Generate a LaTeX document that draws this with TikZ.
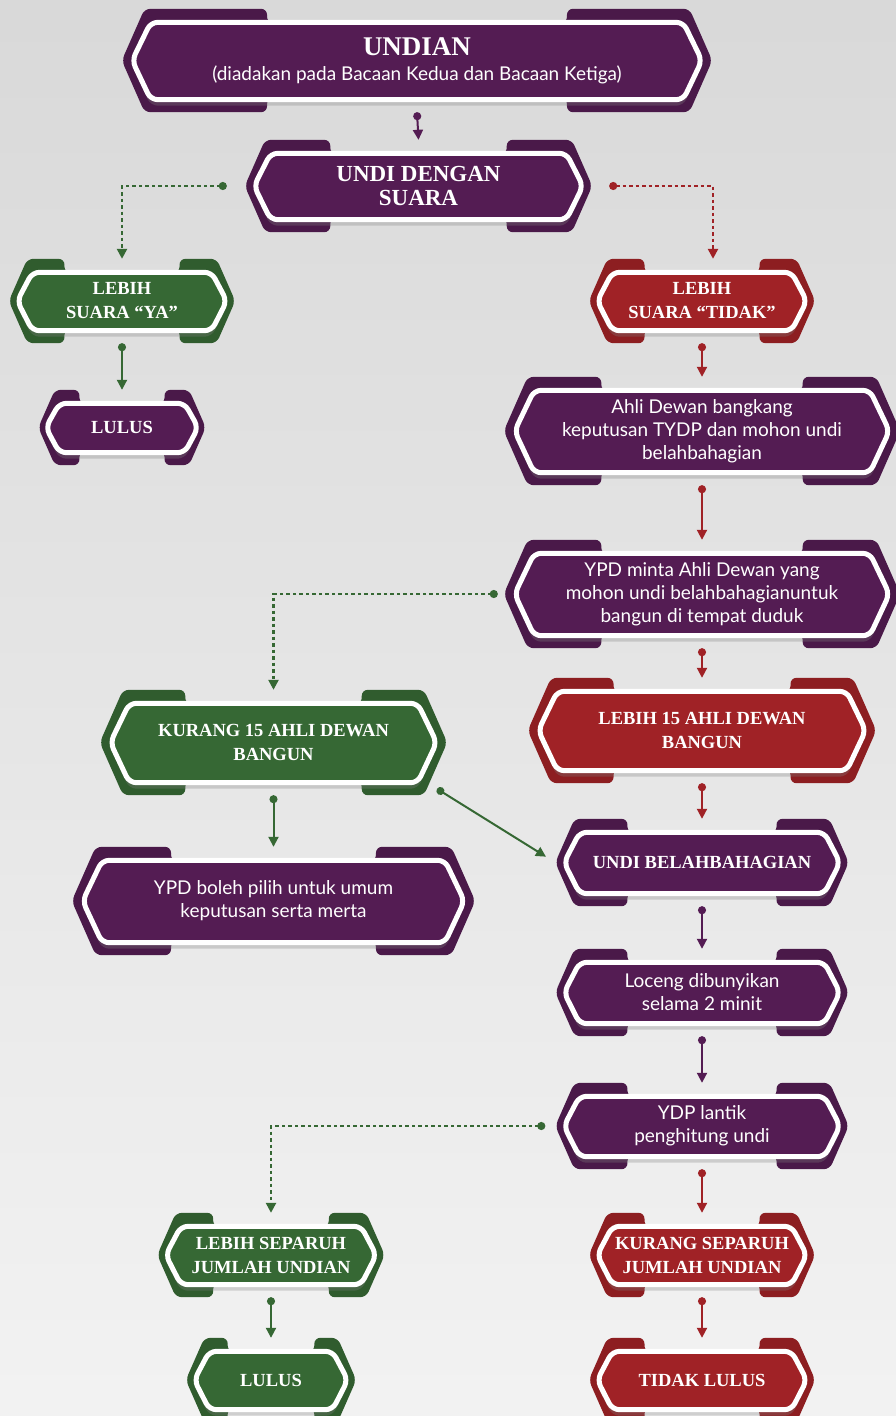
\documentclass[tikz,border=0pt]{standalone}
\usepackage{fontspec}
\setmainfont{Liberation Serif}
\newfontfamily\latofont{Lato}
\usetikzlibrary{arrows.meta,calc,shadows}

\definecolor{plum}{RGB}{84,28,83}
\definecolor{leaf}{RGB}{54,104,52}
\definecolor{brick}{RGB}{160,34,38}

\pgfdeclarelayer{back}
\pgfdeclarelayer{deco}
\pgfsetlayers{back,deco,main}

\newcommand\plaque[2]{%
\path[fill=#2!88!black, rounded corners=6pt] let \p1=(#1.north west), \p2=(#1.south east),
	\n1={0.246*(\x2-\x1)}, \n2={0.22*(\y1-\y2)}, \n3={(\y1+\y2)/2} in
	(\x1,\n3) -- (\x1+\n2,\y1) -- (\x1+\n1,\y1) -- (\x1+\n1,\y1-14pt) -- (\x2-\n1,\y1-14pt)
	-- (\x2-\n1,\y1) -- (\x2-\n2,\y1) -- (\x2,\n3) -- (\x2-\n2,\y2) -- (\x2-\n1,\y2)
	-- (\x2-\n1,\y2+14pt) -- (\x1+\n1,\y2+14pt) -- (\x1+\n1,\y2) -- (\x1+\n2,\y2) -- cycle;
\path[fill=#2, draw=white, line width=5pt, rounded corners=7pt,
	drop shadow={shadow xshift=0pt, shadow yshift=-6pt, opacity=.3}]
	let \p1=(#1.north west), \p2=(#1.south east),
	\n1={0.1*(\y1-\y2)}, \n2={0.1*(\y1-\y2)+0.18*(\y1-\y2)}, \n3={(\y1+\y2)/2} in
	(\x1+\n1,\n3) -- (\x1+\n2,\y1-13.5pt) -- (\x2-\n2,\y1-13.5pt) -- (\x2-\n1,\n3)
	-- (\x2-\n2,\y2+12.5pt) -- (\x1+\n2,\y2+12.5pt) -- cycle;
}

\begin{document}
\begin{tikzpicture}[x=1pt,y=-1pt,
box/.style={inner sep=0pt, text=white, align=center},
head/.style={box, font=\bfseries\fontsize{18.5}{24}\selectfont},
body/.style={box, font=\latofont\fontsize{19}{23}\selectfont},
link/.style={line width=2pt, {Circle[length=8pt]-Triangle[length=10pt,width=10pt]}},
dots/.style={link, line width=2.4pt, dash pattern=on 3.5pt off 3pt},
]
\useasboundingbox (0,0) rectangle (896,1416);
\begin{pgfonlayer}{back}
\fill[top color=black!15, bottom color=black!5] (0,0) rectangle (896,1416);
\end{pgfonlayer}
% \draw[help lines] (0,0) grid[step=50] (896,1416);

\node[head, minimum width=590, minimum height=103] (undian) at (417,60.5)
	{{\fontsize{27}{30}\selectfont UNDIAN}\\[1pt]
	{\latofont\mdseries\fontsize{19}{23}\selectfont (diadakan pada Bacaan Kedua dan Bacaan Ketiga)}};
\node[head, minimum width=347, minimum height=92, font=\bfseries\fontsize{23}{24}\selectfont] (suara) at (418.5,186)
	{UNDI DENGAN\\SUARA};
\node[head, minimum width=226, minimum height=84] (ya) at (122,301) {LEBIH\\SUARA “YA”};
\node[head, minimum width=167, minimum height=75] (lulusa) at (122,427.5) {LULUS};
\node[head, minimum width=226, minimum height=84] (tidak) at (702,301) {LEBIH\\SUARA “TIDAK”};
\node[body, minimum width=396, minimum height=108] (bangkang) at (702,431)
	{Ahli Dewan bangkang\\keputusan TYDP dan mohon undi\\belahbahagian};
\node[body, minimum width=396, minimum height=108] (minta) at (702,594)
	{YPD minta Ahli Dewan yang\\mohon undi belahbahagianuntuk\\bangun di tempat duduk};
\node[head, minimum width=348, minimum height=105] (lebihlima) at (702,730.5) {LEBIH 15 AHLI DEWAN\\BANGUN};
\node[head, minimum width=347, minimum height=105] (kuranglima) at (273.5,742.5) {KURANG 15 AHLI DEWAN\\BANGUN};
\node[body, minimum width=403, minimum height=108] (boleh) at (273.5,901)
	{YPD boleh pilih untuk umum\\keputusan serta merta};
\node[head, minimum width=293, minimum height=87] (belah) at (702,862.5) {UNDI BELAHBAHAGIAN};
\node[body, minimum width=293, minimum height=87] (loceng) at (702,992.5) {Loceng dibunyikan\\selama 2 minit};
\node[body, minimum width=293, minimum height=86] (lantik) at (702,1126) {YDP lantik\\penghitung undi};
\node[head, minimum width=227, minimum height=84] (lebihsep) at (271,1255) {LEBIH SEPARUH\\JUMLAH UNDIAN};
\node[head, minimum width=226, minimum height=84] (kurangsep) at (702,1255) {KURANG SEPARUH\\JUMLAH UNDIAN};
\node[head, minimum width=170, minimum height=84] (lulusb) at (271,1380) {LULUS};
\node[head, minimum width=226, minimum height=84] (tidaklulus) at (702,1380) {TIDAK LULUS};

\begin{pgfonlayer}{deco}
\foreach \nm/\col in {undian/plum, suara/plum, ya/leaf, lulusa/plum, tidak/brick, bangkang/plum,
	minta/plum, lebihlima/brick, kuranglima/leaf, boleh/plum, belah/plum, loceng/plum, lantik/plum,
	lebihsep/leaf, kurangsep/brick, lulusb/leaf, tidaklulus/brick}
	{\plaque{\nm}{\col}}
\end{pgfonlayer}

\draw[link, plum] (undian.south) -- (suara.north);
\draw[dots, leaf, shorten <=18pt] (suara.west) -| (ya.north);
\draw[dots, brick, shorten <=17pt] (suara.east) -| ([xshift=11pt]tidak.north);
\draw[link, leaf] (ya.south) -- (lulusa.north);
\draw[link, brick] (tidak.south) -- (bangkang.north);
\draw[link, brick] (bangkang.south) -- (minta.north);
\draw[dots, leaf, shorten <=6pt] (minta.west) -| (kuranglima.north);
\draw[link, brick] (minta.south) -- (lebihlima.north);
\draw[link, brick] (lebihlima.south) -- (belah.north);
\draw[link, leaf] (kuranglima.south) -- (boleh.north);
\draw[link, leaf, shorten <=-12pt, shorten >=11pt] (kuranglima.south east) -- (belah.west);
\draw[link, plum] (belah.south) -- (loceng.north);
\draw[link, plum] (loceng.south) -- (lantik.north);
\draw[dots, leaf, shorten <=10pt] (lantik.west) -| (lebihsep.north);
\draw[link, brick] (lantik.south) -- (kurangsep.north);
\draw[link, leaf] (lebihsep.south) -- (lulusb.north);
\draw[link, brick] (kurangsep.south) -- (tidaklulus.north);
\end{tikzpicture}
\end{document}
